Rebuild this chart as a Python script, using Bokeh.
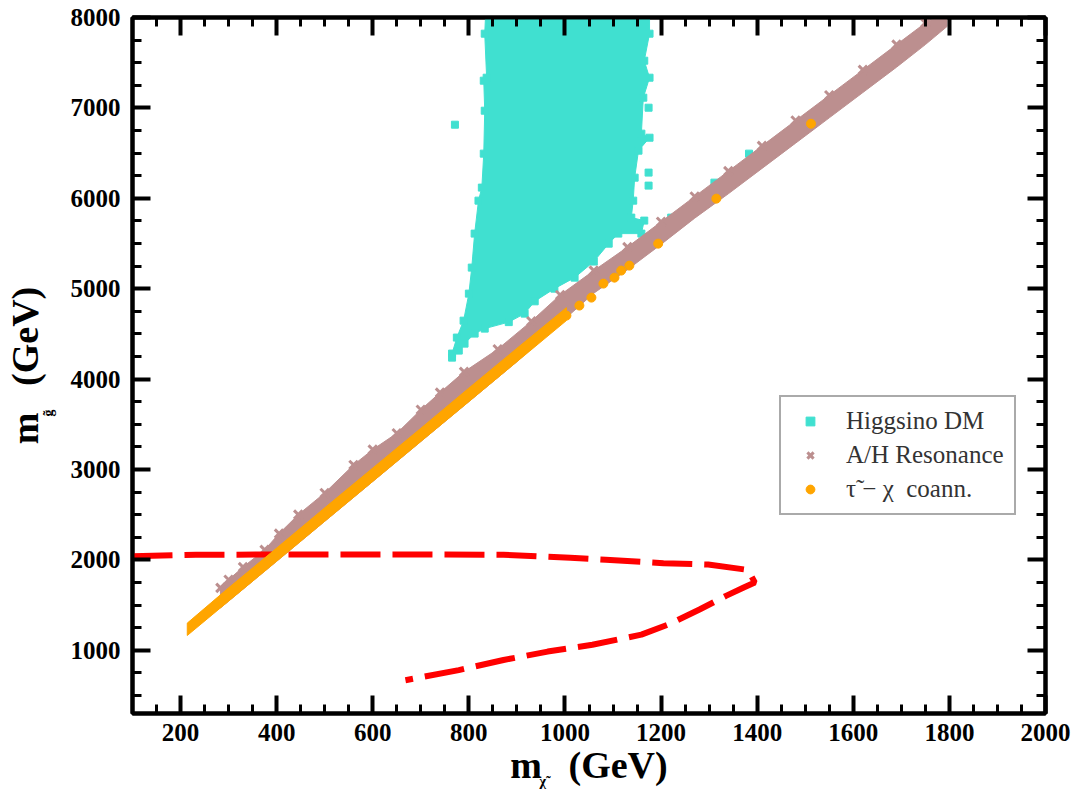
import math
from bokeh.plotting import figure
from bokeh.models import (LinearAxis, SingleIntervalTicker, Legend, LegendItem,
                          Label, Range1d, CustomJSTickFormatter)
from bokeh.embed import file_html
from bokeh.resources import INLINE

# ---------------- data ----------------
# Higgsino DM region outline (m_chi, m_gluino)
hig_x = [835, 833, 837, 831, 833, 831, 827, 820, 812, 806, 800, 789, 775, 765, 765,
         779, 791, 812, 833, 883, 916, 937, 978, 1020, 1060, 1091, 1111, 1159, 1165,
         1138, 1142, 1145, 1153, 1176, 1159, 1163, 1176, 1165, 1176, 1176]
hig_y = [8050, 7821, 7334, 7301, 6969, 6494, 6118, 5974, 5609, 5233, 4945, 4646, 4459, 4282, 4237,
         4315, 4392, 4503, 4558, 4630, 4724, 4860, 5000, 5122, 5300, 5498, 5609, 5609, 5753,
         5786, 5974, 6228, 6527, 6670, 6715, 7113, 7334, 7522, 7821, 8050]
# isolated Higgsino points
hig_pts_x = [771, 1174, 1174, 1174, 1311, 1221, 1383]
hig_pts_y = [6814, 7002, 6284, 6140, 6173, 5786, 6494]

# A/H resonance band: upper edge (left->right) and lower edge (right->left)
ah_up_x = [283, 300, 330, 375, 405, 445, 500, 560, 600, 650, 700, 740, 790, 860, 930, 990,
           1060, 1130, 1200, 1270, 1340, 1410, 1480, 1550, 1620, 1690, 1750, 1795]
ah_up_y = [1690, 1780, 1920, 2110, 2290, 2500, 2740, 3050, 3220, 3400, 3660, 3850, 4080, 4330, 4640, 4930,
           5200, 5460, 5740, 6020, 6300, 6580, 6860, 7140, 7420, 7700, 7940, 8060]
ah_lo_x = [1795, 1750, 1690, 1620, 1550, 1480, 1410, 1340, 1270, 1200, 1130, 1060, 1003,
           900, 800, 700, 600, 500, 400, 300, 283]
ah_lo_y = [7900, 7700, 7450, 7170, 6890, 6610, 6330, 6050, 5780, 5490, 5210, 4950, 4680,
           4192, 3750, 3309, 2867, 2426, 1984, 1543, 1468]

# stau - chi coannihilation band and isolated points
co_lo_x = [214, 300, 400, 500, 600, 700, 800, 900, 1003]
co_lo_y = [1163, 1543, 1984, 2426, 2867, 3309, 3750, 4192, 4647]
co_up_x = [1003, 900, 800, 700, 600, 500, 400, 300, 214]
co_up_y = [4790, 4340, 3900, 3455, 3015, 2575, 2130, 1690, 1300]
co_pts_x = [1003, 1030, 1055, 1080, 1103, 1117, 1134, 1194, 1315, 1512]
co_pts_y = [4702, 4813, 4901, 5056, 5122, 5200, 5255, 5498, 5996, 6825]

# red dashed contour
red_x = [100, 232, 501, 686, 872, 1011, 1085, 1205, 1298, 1381, 1395, 1372, 1335,
         1280, 1215, 1159, 1057, 964, 872, 779, 668]
red_y = [2040, 2056, 2060, 2060, 2056, 2022, 2000, 1963, 1948, 1888, 1750, 1694, 1601,
         1451, 1284, 1172, 1060, 985, 892, 780, 668]

x_tick_step = 200
y_tick_step = 1000

TURQ = "#40E0D0"
BROWN = "#BC8F8F"
ORANGE = "#FFA500"
FONT = "Liberation Serif"

p = figure(width=1074, height=792, x_range=Range1d(100, 2000), y_range=Range1d(300, 8000),
           output_backend="svg", toolbar_location=None,
           min_border_left=130, min_border_right=29, min_border_top=17, min_border_bottom=79)
p.grid.visible = False
p.outline_line_color = "black"
p.outline_line_width = 4
p.background_fill_color = "white"
p.border_fill_color = "white"

xt = SingleIntervalTicker(interval=x_tick_step, num_minor_ticks=4)
yt = SingleIntervalTicker(interval=y_tick_step, num_minor_ticks=4)


def style(ax, labels=True):
    ax.axis_line_color = "black"
    ax.axis_line_width = 4
    ax.major_tick_in = 18
    ax.major_tick_out = 0
    ax.major_tick_line_width = 4
    ax.minor_tick_in = 9
    ax.minor_tick_out = 0
    ax.minor_tick_line_width = 3
    ax.major_label_text_font = FONT
    ax.major_label_text_font_style = "bold"
    ax.major_label_text_font_size = "25px"
    ax.major_label_text_color = "black"
    ax.axis_label_text_font = FONT
    ax.axis_label_text_font_style = "bold"
    ax.axis_label_text_font_size = "38px"
    ax.axis_label_text_color = "black"
    if not labels:
        ax.formatter = CustomJSTickFormatter(code="return ''")
        ax.major_label_text_font_size = "1px"
        ax.major_label_standoff = 0


p.xaxis.ticker = xt
p.yaxis.ticker = yt
style(p.xaxis[0])
style(p.yaxis[0])
p.xaxis.major_label_standoff = 10
p.yaxis.major_label_standoff = 12
p.xaxis.axis_label = "m\u2002\u2009(GeV)"
p.yaxis.axis_label = "m\u2002\u2009(GeV)"
p.xaxis.axis_label_standoff = 0
p.yaxis.axis_label_standoff = 22

top = LinearAxis(ticker=xt)
right = LinearAxis(ticker=yt)
style(top, labels=False)
style(right, labels=False)
p.add_layout(top, "above")
p.add_layout(right, "right")

# Higgsino
p.patch(hig_x, hig_y, color=TURQ, line_width=1)
r_hig = p.scatter(hig_x + hig_pts_x, hig_y + hig_pts_y, marker="square", size=7, color=TURQ)

# A/H resonance
p.patch(ah_up_x + ah_lo_x, ah_up_y + ah_lo_y, color=BROWN, line_width=1)
r_ah = p.scatter(ah_up_x, ah_up_y, marker="x", size=12, line_width=3, color=BROWN)

# red dashed contour
p.line(red_x, red_y, line_color="red", line_width=6, line_dash="40 12")

# coannihilation
p.patch(co_lo_x + co_up_x, co_lo_y + co_up_y, color=ORANGE, line_width=1)
r_co = p.scatter(co_pts_x, co_pts_y, marker="circle", size=9, color=ORANGE)

legend = Legend(items=[LegendItem(label="Higgsino DM", renderers=[r_hig]),
                       LegendItem(label="A/H Resonance", renderers=[r_ah]),
                       LegendItem(label="\u03c4\u0303 \u2212 \u03c7  coann.", renderers=[r_co])],
                location=(647, 198))
legend.border_line_color = "#555555"
legend.border_line_width = 2
legend.background_fill_color = "white"
legend.background_fill_alpha = 1
legend.label_text_font = FONT
legend.label_text_font_size = "25px"
legend.label_text_color = "#333333"
legend.padding = 10
legend.glyph_width = 38
legend.glyph_height = 22
legend.label_height = 28
legend.label_standoff = 17
legend.spacing = 6
legend.margin = 0
p.add_layout(legend, "center")

# small subscripts of the axis titles (side panels are not clipped)
sub_kw = dict(x_units="screen", y_units="screen", text_font=FONT, text_font_style="bold",
              text_color="black", text_baseline="alphabetic", text_align="left",
              text_font_size="14px")
p.add_layout(Label(x=407, y=-764, text="\u03c7\u0303", **sub_kw), "above")
p.add_layout(Label(x=-997, y=297, text="g\u0303", angle=math.pi / 2, **sub_kw), "right")

open("out.html", "w").write(file_html(p, INLINE))
